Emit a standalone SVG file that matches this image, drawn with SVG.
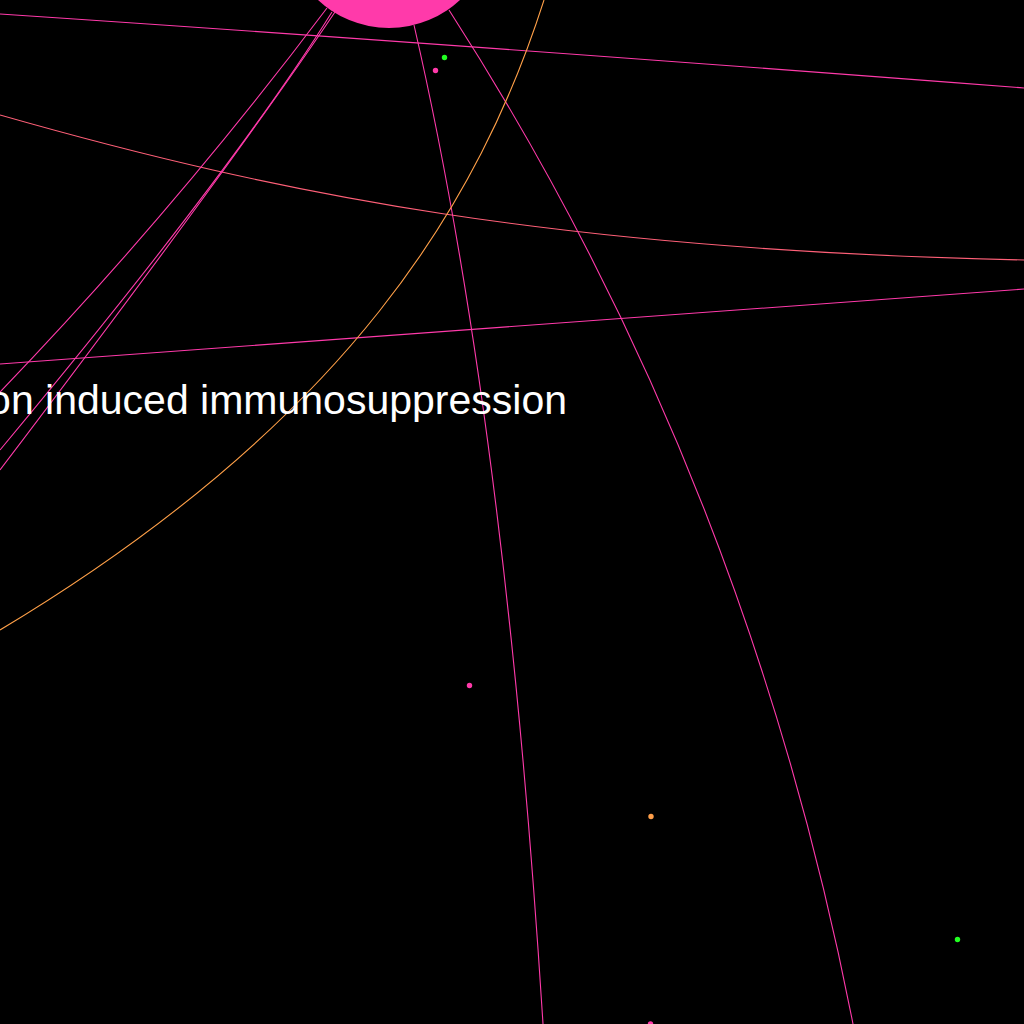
<svg xmlns="http://www.w3.org/2000/svg" width="1024" height="1024" viewBox="0 0 1024 1024">
<style>
.e{fill:none;stroke-width:1.1}
.p{stroke:#ff3aaa}
.s{stroke:#ff6078}
.o{stroke:#ffa048}
.lbl{font-family:"Liberation Sans",Arial,sans-serif;font-size:41px;fill:#ffffff}
</style>
<rect width="1024" height="1024" fill="#000"/>
<g id="edges">
<path class="e p" d="M0,14 Q450,44 1024,88"/>
<path class="e s" d="M0,115 C280,195 560,250 1024,260"/>
<path class="e p" d="M0,364 L1024,289"/>
<path class="e p" d="M327,8 Q175,210 0,392"/>
<path class="e p" d="M332,12 Q234,169 0,450"/>
<path class="e p" d="M335,12 Q236,159 0,470"/>
<path class="e p" d="M414,25 Q505,420 543,1024"/>
<path class="e p" d="M449,10 Q745,470 853,1024"/>
<path class="e o" d="M544,0 C480,200 350,420 0,630"/>
</g>
<g id="node-hub"><circle cx="389" cy="-76" r="104" fill="#ff3aaa"/></g>
<g id="node-label"><text class="lbl" x="567" y="414" text-anchor="end">on induced immunosuppression</text></g>
<g id="node-d1"><circle cx="444.5" cy="57.5" r="2.7" fill="#22ff22"/></g>
<g id="node-d2"><circle cx="435.5" cy="70.5" r="2.7" fill="#ff3aaa"/></g>
<g id="node-d3"><circle cx="469.5" cy="685.5" r="2.7" fill="#ff3aaa"/></g>
<g id="node-d4"><circle cx="651" cy="816.5" r="2.7" fill="#ff9f4a"/></g>
<g id="node-d5"><circle cx="957.5" cy="939.5" r="2.7" fill="#22ff22"/></g>
<g id="node-d6"><circle cx="650.5" cy="1024" r="2.7" fill="#ff3aaa"/></g>
</svg>
